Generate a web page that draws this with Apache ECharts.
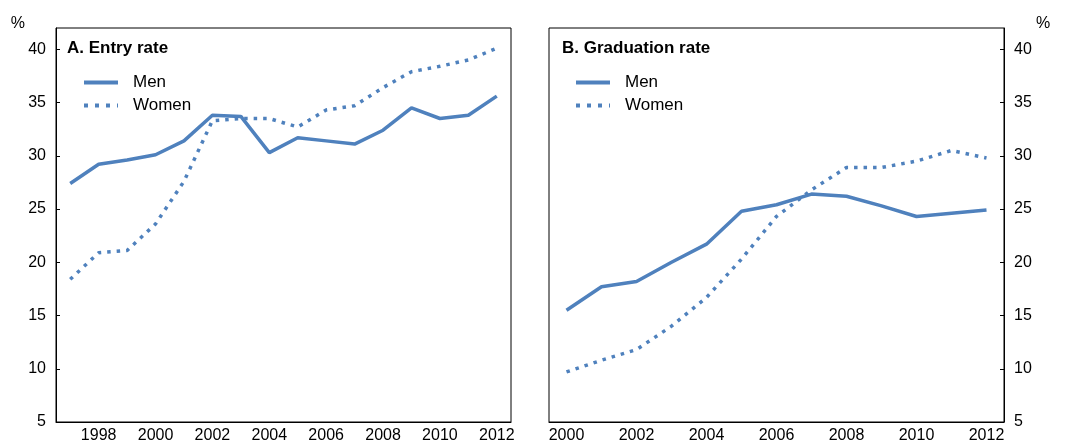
<!DOCTYPE html>
<html>
<head>
<meta charset="utf-8">
<script src="https://cdn.jsdelivr.net/npm/echarts@6/dist/echarts.min.js"></script>
<style>
  html, body { margin: 0; padding: 0; background: #fff; }
  #chart { width: 1069px; height: 444px; }
</style>
</head>
<body>
<div id="chart"></div>
<script>
// 数据
var entryYears = ['1997', '1998', '1999', '2000', '2001', '2002', '2003', '2004',
                  '2005', '2006', '2007', '2008', '2009', '2010', '2011', '2012'];
var entryMen   = [27.4, 29.2, 29.6, 30.1, 31.4, 33.8, 33.7, 30.3,
                  31.7, 31.4, 31.1, 32.4, 34.5, 33.5, 33.8, 35.6];
var entryWomen = [18.4, 20.9, 21.1, 23.6, 27.6, 33.3, 33.5, 33.5,
                  32.7, 34.3, 34.7, 36.4, 37.9, 38.4, 39.0, 40.1];

var gradYears  = ['2000', '2001', '2002', '2003', '2004', '2005', '2006',
                  '2007', '2008', '2009', '2010', '2011', '2012'];
var gradMen    = [15.5, 17.7, 18.2, 20.0, 21.7, 24.8, 25.4, 26.4, 26.2, 25.3, 24.3, 24.6, 24.9];
var gradWomen  = [9.7, 10.8, 11.8, 14.0, 16.7, 20.3, 24.3, 26.8, 28.9, 28.9, 29.5, 30.5, 29.8];

var blue = '#4f81bd';
var font = 'Liberation Sans, Arial, sans-serif';
var solidLine = { color: blue, width: 3.5 };
var dotLine = { color: blue, width: 3.5, type: [3.5, 6], cap: 'butt' };

function xAxisFor(idx, cats, firstLabel) {
    return {
        type: 'category',
        gridIndex: idx,
        data: cats,
        boundaryGap: true,
        axisLine: { lineStyle: { color: '#000', width: 1 } },
        axisTick: { inside: true, length: 4, interval: 0, lineStyle: { color: '#000' } },
        axisLabel: {
            interval: function (i) { return i % 2 === firstLabel; },
            color: '#000', fontSize: 16, fontFamily: font, margin: 6
        },
        splitLine: { show: false }
    };
}

function yAxisFor(idx, pos) {
    return {
        type: 'value',
        gridIndex: idx,
        position: pos,
        min: 5, max: 42, interval: 5,
        name: '%',
        nameLocation: 'end',
        nameGap: -4,
        nameTextStyle: {
            color: '#000', fontSize: 16, fontFamily: font,
            align: pos === 'left' ? 'right' : 'left',
            padding: pos === 'left' ? [0, 31, 0, 0] : [0, 0, 0, 32]
        },
        axisLine: { show: true, lineStyle: { color: '#000', width: 1 } },
        axisTick: { show: true, inside: true, length: 4, lineStyle: { color: '#000' } },
        axisLabel: {
            color: '#000', fontSize: 16, fontFamily: font, margin: 10,
            showMaxLabel: false,
            formatter: function (v) { return v % 5 === 0 ? String(v) : ''; }
        },
        splitLine: { show: false }
    };
}

function lineSeries(name, idx, values, dotted) {
    return {
        name: name,
        type: 'line',
        xAxisIndex: idx,
        yAxisIndex: idx,
        data: values,
        symbol: 'none',
        color: blue,
        lineStyle: dotted ? dotLine : solidLine,
        emphasis: { disabled: true }
    };
}

function legendFor(left) {
    return {
        orient: 'vertical',
        left: left, top: 74,
        padding: 0,
        itemWidth: 34, itemHeight: 14, itemGap: 6,
        data: [
            { name: 'Men', itemStyle: { opacity: 0 }, lineStyle: { color: blue, width: 4 } },
            { name: 'Women', itemStyle: { opacity: 0 }, lineStyle: { color: blue, width: 4, type: [4, 7], cap: 'butt' } }
        ],
        textStyle: { color: '#000', fontSize: 17, fontFamily: font, padding: [0, 0, 0, 10] }
    };
}

var myChart = echarts.init(document.getElementById('chart'));
myChart.setOption({
    animation: false,
    backgroundColor: '#fff',
    title: [
        { text: 'A. Entry rate', left: 67, top: 40, padding: 0,
          textStyle: { color: '#000', fontSize: 17, fontWeight: 'bold', fontFamily: font } },
        { text: 'B. Graduation rate', left: 562, top: 40, padding: 0,
          textStyle: { color: '#000', fontSize: 17, fontWeight: 'bold', fontFamily: font } }
    ],
    legend: [legendFor(82), legendFor(574)],
    grid: [
        { left: 56, top: 28, width: 455, height: 394, show: true, borderColor: '#000', borderWidth: 1 },
        { left: 549, top: 28, width: 455, height: 394, show: true, borderColor: '#000', borderWidth: 1 }
    ],
    xAxis: [xAxisFor(0, entryYears, 1), xAxisFor(1, gradYears, 0)],
    yAxis: [yAxisFor(0, 'left'), yAxisFor(1, 'right')],
    series: [
        lineSeries('Men', 0, entryMen, false),
        lineSeries('Women', 0, entryWomen, true),
        lineSeries('Men', 1, gradMen, false),
        lineSeries('Women', 1, gradWomen, true)
    ]
});
</script>
</body>
</html>
